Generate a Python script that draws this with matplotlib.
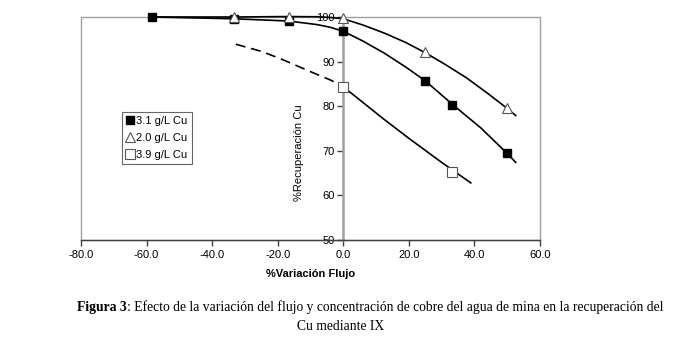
import matplotlib.pyplot as plt
import numpy as np
from matplotlib.patches import Rectangle

# datos
x_31 = [-58.4, -33.3, -16.7, 0.0, 25.0, 33.3, 50.0]
y_31 = [100.0, 99.6, 99.1, 96.9, 85.7, 80.3, 69.4]
x_20 = [-33.3, -16.7, 0.0, 25.0, 50.0]
y_20 = [100.0, 100.0, 99.7, 92.1, 79.7]
x_39 = [0.0, 33.3]
y_39 = [84.3, 65.3]

# curvas suavizadas leidas a mano del grafico
x_c31 = [-58.4, -33.3, -16.7, -8.0, -4.0, 0.0, 6.0, 12.5, 19.0, 25.0, 33.3, 42.0, 50.0, 52.6]
y_c31 = [100.0, 99.6, 99.1, 98.3, 97.7, 96.8, 94.6, 91.9, 88.8, 85.7, 80.4, 75.1, 69.4, 67.4]
x_c20 = [-58.4, -33.3, -16.7, -8.0, -4.0, 0.0, 6.0, 12.5, 19.0, 25.0, 31.0, 37.5, 44.0, 50.0, 52.6]
y_c20 = [100.0, 100.0, 100.1, 100.05, 99.9, 99.6, 98.2, 96.4, 94.3, 92.0, 89.4, 86.4, 82.9, 79.5, 77.9]
x_c39 = [0.0, 3.0, 6.4, 12.0, 20.0, 30.0, 38.9]
y_c39 = [84.3, 82.6, 80.6, 77.3, 72.8, 67.4, 62.8]
x_dash = [-32.8, -25.0, -19.0, -13.0, -8.9, -4.0, 0.0]
y_dash = [93.9, 92.3, 90.6, 88.7, 87.4, 85.9, 84.4]

gris = '#a0a0a0'

plt.rcParams['font.family'] = ['Liberation Sans', 'DejaVu Sans']
fig = plt.figure(figsize=(6.82, 3.47), dpi=100)
ax = fig.add_axes([81 / 682, 1 - 240 / 347, 459 / 682, 223 / 347])

ax.plot(x_c31, y_c31, color='black', lw=1.2, zorder=3, clip_on=False)
ax.plot(x_c20, y_c20, color='black', lw=1.2, zorder=3, clip_on=False)
ax.plot(x_c39, y_c39, color='black', lw=1.2, zorder=3)
ax.plot(x_dash, y_dash, color='black', lw=1.2, ls=(0, (6, 3.5)), zorder=3)

# puntos
ax.plot(x_31, y_31, ls='none', marker='s', ms=6, mfc='black', mec='black',
        label='3.1 g/L Cu', clip_on=False, zorder=5)
ax.plot(x_20, y_20, ls='none', marker='^', ms=7, mfc='white', mec='#555555', mew=0.8,
        label='2.0 g/L Cu', clip_on=False, zorder=5)
ax.plot(x_39, y_39, ls='none', marker='s', ms=7, mfc='white', mec='#555555', mew=0.8,
        label='3.9 g/L Cu', clip_on=False, zorder=5)

ax.set_xlim(-80, 60)
ax.set_ylim(50, 100)
ax.set_xticks(np.arange(-80, 61, 20))
ax.set_xticklabels([f'{v:.1f}' for v in np.arange(-80, 61, 20)])
ax.set_yticks(np.arange(50, 101, 10))

ax.spines['left'].set_position(('data', 0))
ax.spines['left'].set_color(gris)
ax.spines['left'].set_linewidth(1.8)
ax.spines['right'].set_visible(False)
ax.spines['top'].set_visible(False)
ax.spines['bottom'].set_color('#404040')
ax.spines['bottom'].set_linewidth(1.0)
ax.add_patch(Rectangle((0, 0), 1, 1, transform=ax.transAxes, fill=False,
                       edgecolor=gris, lw=1.0, clip_on=False, zorder=0))

ax.tick_params(axis='both', labelsize=8, length=4, width=1, color='#404040')
ax.tick_params(axis='y', pad=2)
ax.set_xlabel('%Variación Flujo', fontsize=8, fontweight='bold', labelpad=6)
ax.text(-13.5, 69.5, '%Recuperación Cu', rotation=90, fontsize=8,
        ha='center', va='center')

leg = ax.legend(loc='upper left', bbox_to_anchor=(40.5 / 459, 1 - 95 / 223),
                fontsize=8, frameon=True, fancybox=False, handlelength=0.8,
                handletextpad=0.2, borderpad=0.35, labelspacing=0.62,
                borderaxespad=0)
leg.get_frame().set_edgecolor('#404040')
leg.get_frame().set_linewidth(0.8)

cap1a = fig.text(77 / 682, 1 - 307 / 347, 'Figura 3', fontsize=9.8,
                 family='Liberation Serif', fontweight='bold', va='center')
fig.canvas.draw()
bb = cap1a.get_window_extent()
fig.text(bb.x1 / 682, 1 - 307 / 347,
         ': Efecto de la variación del flujo y concentración de cobre del agua de mina en la recuperación del',
         fontsize=9.8, family='Liberation Serif', va='center')
fig.text(0.5, 1 - 326 / 347, 'Cu mediante IX', fontsize=9.8,
         family='Liberation Serif', ha='center', va='center')

fig.savefig('out.png', dpi=100)
